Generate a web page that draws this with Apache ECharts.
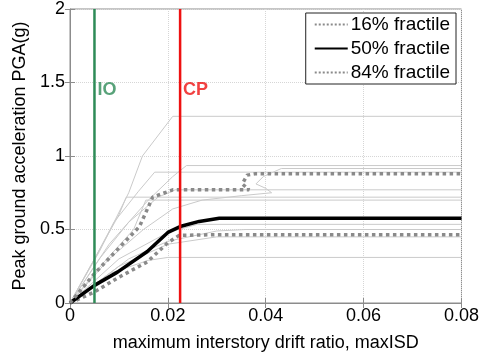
<!DOCTYPE html>
<html lang="en">
<head>
    <meta charset="UTF-8">
    <title>IDA fractiles</title>
    <style>
        html, body { margin: 0; padding: 0; background: #fff; }
    </style>
</head>
<body>
<div id="main" style="width: 482px;height: 357px;"></div>
<script src="https://cdn.jsdelivr.net/npm/echarts@6/dist/echarts.min.js"></script>
<script type="text/javascript">

    // individual IDA curves: [maxISD, PGA(g)]
    var idaCurves = [
        [[0, 0], [0.006, 0.35], [0.012, 0.75], [0.0148, 1.0], [0.021, 1.27], [0.08, 1.27]],
        [[0, 0], [0.005, 0.3], [0.009, 0.55], [0.014, 0.76], [0.0173, 0.89], [0.08, 0.89]],
        [[0, 0], [0.008, 0.4], [0.016, 0.7], [0.021, 0.86], [0.0238, 0.935], [0.08, 0.935]],
        [[0, 0], [0.008, 0.3], [0.015, 0.5], [0.021, 0.64], [0.027, 0.7], [0.035, 0.73], [0.0412, 0.75], [0.04, 0.78], [0.038, 0.81], [0.0395, 0.86], [0.0432, 0.915], [0.08, 0.915]],
        [[0, 0], [0.005, 0.3], [0.01, 0.6], [0.0115, 0.72], [0.08, 0.72]],
        [[0, 0], [0.006, 0.3], [0.012, 0.55], [0.018, 0.72], [0.0215, 0.77], [0.08, 0.77]],
        [[0, 0], [0.007, 0.28], [0.013, 0.5], [0.0155, 0.7], [0.08, 0.7]],
        [[0, 0], [0.01, 0.3], [0.02, 0.48], [0.026, 0.535], [0.08, 0.535]],
        [[0, 0], [0.012, 0.3], [0.02, 0.42], [0.03, 0.49], [0.036, 0.5], [0.08, 0.5]],
        [[0, 0], [0.01, 0.25], [0.02, 0.4], [0.03, 0.45], [0.08, 0.45]],
        [[0, 0], [0.008, 0.2], [0.016, 0.29], [0.02, 0.31], [0.08, 0.31]]
    ];

    // fractile curves
    var frac16 = [[0, 0], [0.005, 0.075], [0.0097, 0.17], [0.0158, 0.28], [0.02, 0.41], [0.0223, 0.46], [0.03, 0.465], [0.08, 0.465]];
    var frac50 = [[0, 0], [0.005, 0.12], [0.0097, 0.21], [0.0158, 0.35], [0.02, 0.48], [0.0225, 0.52], [0.0264, 0.555], [0.0305, 0.576], [0.08, 0.576]];
    var frac84 = [[0, 0], [0.005, 0.2], [0.0142, 0.52], [0.0169, 0.72], [0.021, 0.77], [0.0366, 0.77], [0.0352, 0.81], [0.0362, 0.87], [0.038, 0.88], [0.08, 0.88]];

    // performance limits
    var limitIO = 0.005;
    var limitCP = 0.0225;
    var labelY = 1.45;

    var font = 'Liberation Sans, Arial, sans-serif';

    var series = [];
    idaCurves.forEach(function (c, i) {
        series.push({
            name: 'ida' + i,
            type: 'line',
            data: c,
            symbol: 'none',
            silent: true,
            lineStyle: { color: '#cacaca', width: 1 },
            z: 1
        });
    });
    series.push({
        name: '16% fractile', type: 'line', data: frac16, symbol: 'none',
        lineStyle: { color: '#8a8a8a', width: 3.5, type: 'dotted' }, itemStyle: { color: '#8a8a8a' }, z: 3
    });
    series.push({
        name: '50% fractile', type: 'line', data: frac50, symbol: 'none',
        lineStyle: { color: '#000', width: 3.5 }, itemStyle: { color: '#000' }, z: 3
    });
    series.push({
        name: '84% fractile', type: 'line', data: frac84, symbol: 'none',
        lineStyle: { color: '#8a8a8a', width: 3.5, type: 'dotted' }, itemStyle: { color: '#8a8a8a' }, z: 3
    });

    // vertical limit lines with their labels
    [[limitIO, 'IO', '#2e8b57'], [limitCP, 'CP', '#ee1111']].forEach(function (l) {
        series.push({
            name: l[1], type: 'line', symbol: 'none', silent: true,
            data: [[l[0], 0], [l[0], 2]],
            lineStyle: { color: l[2], width: 2.5 }, z: 5
        });
        series.push({
            name: l[1] + 'lbl', type: 'scatter', symbolSize: 0, silent: true,
            data: [[l[0], labelY]],
            label: {
                show: true, position: 'right', distance: 3, formatter: l[1],
                color: l[2], fontFamily: font, fontSize: 18, fontWeight: 'bold'
            },
            z: 6
        });
    });

    var option = {
        backgroundColor: '#fff',
        animation: false,
        grid: {
            left: 70, right: 18, top: 8, bottom: 54,
            show: true, borderColor: '#8c8c8c', borderWidth: 1, backgroundColor: '#fff'
        },
        legend: {
            data: ['16% fractile', '50% fractile', '84% fractile'],
            orient: 'vertical',
            right: 26, top: 13,
            itemWidth: 33, itemHeight: 18, itemGap: 5,
            padding: [2, 6, 2, 8],
            borderColor: '#222', borderWidth: 1, backgroundColor: '#fff',
            itemStyle: { opacity: 0, color: 'transparent', borderWidth: 0 },
            textStyle: { fontFamily: font, fontSize: 19, color: '#000', padding: [0, 0, 0, -2] }
        },
        xAxis: [{
            type: 'value', min: 0, max: 0.08, interval: 0.02,
            name: 'maximum interstory drift ratio, maxISD',
            nameLocation: 'middle', nameGap: 31,
            nameTextStyle: { fontFamily: font, fontSize: 18, color: '#000' },
            axisLine: { show: true, lineStyle: { color: '#8c8c8c' } },
            axisTick: { show: true, inside: true, length: 5, lineStyle: { color: '#8c8c8c' } },
            axisLabel: {
                fontFamily: font, fontSize: 18, color: '#000', margin: 4,
                formatter: function (v) { return String(+v.toFixed(2)); }
            },
            splitLine: { show: true, lineStyle: { color: '#d6d6d6', type: 'dotted' } }
        }, {
            type: 'value', min: 0, max: 0.08, interval: 0.02, position: 'top',
            axisLine: { show: false },
            axisTick: { show: true, inside: true, length: 5, lineStyle: { color: '#8c8c8c' } },
            axisLabel: { show: false }, splitLine: { show: false }
        }],
        yAxis: [{
            type: 'value', min: 0, max: 2, interval: 0.5,
            name: 'Peak ground acceleration PGA(g)',
            nameLocation: 'middle', nameGap: 38,
            nameTextStyle: { fontFamily: font, fontSize: 18, color: '#000' },
            axisLine: { show: true, lineStyle: { color: '#8c8c8c' } },
            axisTick: { show: true, inside: true, length: 5, lineStyle: { color: '#8c8c8c' } },
            axisLabel: {
                fontFamily: font, fontSize: 18, color: '#000', margin: 5,
                formatter: function (v) { return String(+v.toFixed(1)); }
            },
            splitLine: { show: true, lineStyle: { color: '#d6d6d6', type: 'dotted' } }
        }, {
            type: 'value', min: 0, max: 2, interval: 0.5, position: 'right',
            axisLine: { show: false },
            axisTick: { show: true, inside: true, length: 5, lineStyle: { color: '#8c8c8c' } },
            axisLabel: { show: false }, splitLine: { show: false }
        }],
        series: series
    };

    var myChart = echarts.init(document.getElementById('main'));
    myChart.setOption(option);
    window.onresize = function () {
        myChart.resize();
    };
</script>
</body>
</html>
